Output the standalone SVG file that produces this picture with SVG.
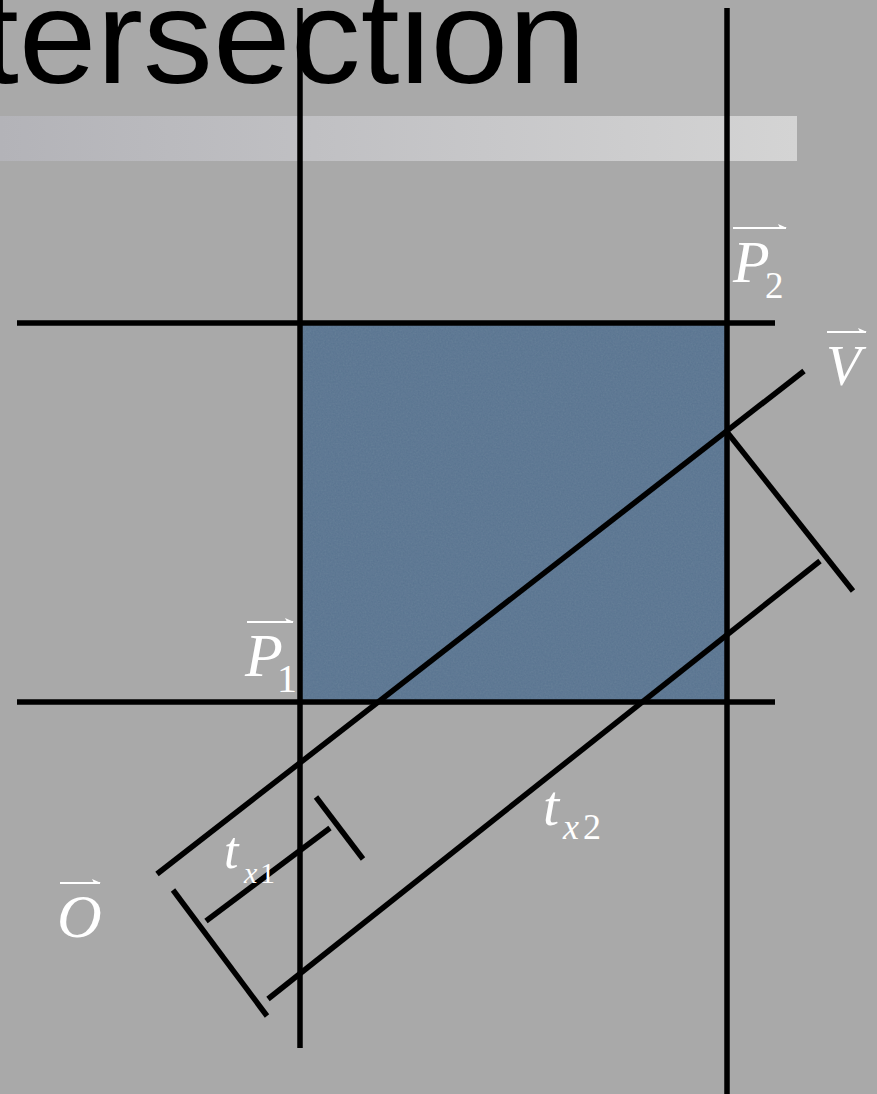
<svg xmlns="http://www.w3.org/2000/svg" width="877" height="1094" viewBox="0 0 877 1094">
<style>
.ln{stroke:#000;stroke-width:5.5;fill:none;stroke-linecap:butt}
.lbl{font-family:"Liberation Serif","Times New Roman","DejaVu Serif","Noto Serif",serif;font-style:italic;fill:#fff}
.up{font-style:normal}
.vec{stroke:#fff;stroke-width:2;fill:none}
.title{font-family:"Liberation Sans",Arial,sans-serif;fill:#000}
</style>
<defs>
<linearGradient id="bar" x1="0" y1="0" x2="1" y2="0">
<stop offset="0" stop-color="#b3b3b8"/>
<stop offset="1" stop-color="#d4d4d4"/>
</linearGradient>
<filter id="noise" x="0" y="0" width="1" height="1">
<feTurbulence type="fractalNoise" baseFrequency="0.6" numOctaves="2" seed="3" result="t"/>
<feColorMatrix in="t" type="matrix" values="0 0 0 0 0.33  0 0 0 0 0.44  0 0 0 0 0.56  0 0 0 0.15 0" result="n"/>
<feComposite in="n" in2="SourceGraphic" operator="in" result="nn"/>
<feMerge><feMergeNode in="SourceGraphic"/><feMergeNode in="nn"/></feMerge>
</filter>
<path id="arrowhead" d="M0,0 l-9,-4 l2,4 z" fill="#fff"/>
</defs>
<rect width="877" height="1094" fill="#a9a9a9"/>
<g id="title">
<text class="title" x="-20" y="83" font-size="134" textLength="606" lengthAdjust="spacingAndGlyphs">tersection</text>
<rect x="0" y="116" width="797" height="45" fill="url(#bar)"/>
</g>
<g id="box">
<rect x="300" y="323" width="427" height="379" fill="#58738f" filter="url(#noise)"/>
</g>
<g id="connectors">
<line class="ln" x1="300" y1="8" x2="300" y2="1048"/>
<line class="ln" x1="727" y1="8" x2="727" y2="1094"/>
<line class="ln" x1="17" y1="323" x2="775" y2="323"/>
<line class="ln" x1="17" y1="702" x2="775" y2="702"/>
<line class="ln" x1="157" y1="874" x2="804" y2="371"/>
<line class="ln" x1="727" y1="432" x2="853" y2="591"/>
<line class="ln" x1="268" y1="999" x2="820" y2="561"/>
<line class="ln" x1="173" y1="890" x2="267" y2="1016"/>
<line class="ln" x1="206" y1="921" x2="330" y2="828"/>
<line class="ln" x1="316" y1="797" x2="363" y2="859"/>
</g>
<g id="label-P2">
<path class="vec" d="M733,228 H786"/>
<use href="#arrowhead" x="787" y="228"/>
<text class="lbl" x="733" y="282" font-size="60">P<tspan class="up" x="765" y="298" font-size="37">2</tspan></text>
</g>
<g id="label-V">
<path class="vec" d="M827,332 H866"/>
<use href="#arrowhead" x="867" y="332"/>
<text class="lbl" x="826" y="385" font-size="57">V</text>
</g>
<g id="label-P1">
<path class="vec" d="M247,622 H293"/>
<use href="#arrowhead" x="294" y="622"/>
<text class="lbl" x="245" y="676" font-size="62">P<tspan class="up" x="277" y="692" font-size="40">1</tspan></text>
</g>
<g id="label-O">
<path class="vec" d="M60,883 H100"/>
<use href="#arrowhead" x="101" y="883"/>
<text class="lbl" x="57" y="937" font-size="62">O</text>
</g>
<g id="label-tx1">
<text class="lbl" x="224" y="868" font-size="52">t<tspan x="244" y="883" font-size="30">x</tspan><tspan class="up" x="260" y="883" font-size="30">1</tspan></text>
</g>
<g id="label-tx2">
<text class="lbl" x="543" y="825" font-size="58">t<tspan x="563" y="839" font-size="36">x</tspan><tspan class="up" x="583" y="839" font-size="36">2</tspan></text>
</g>
</svg>
